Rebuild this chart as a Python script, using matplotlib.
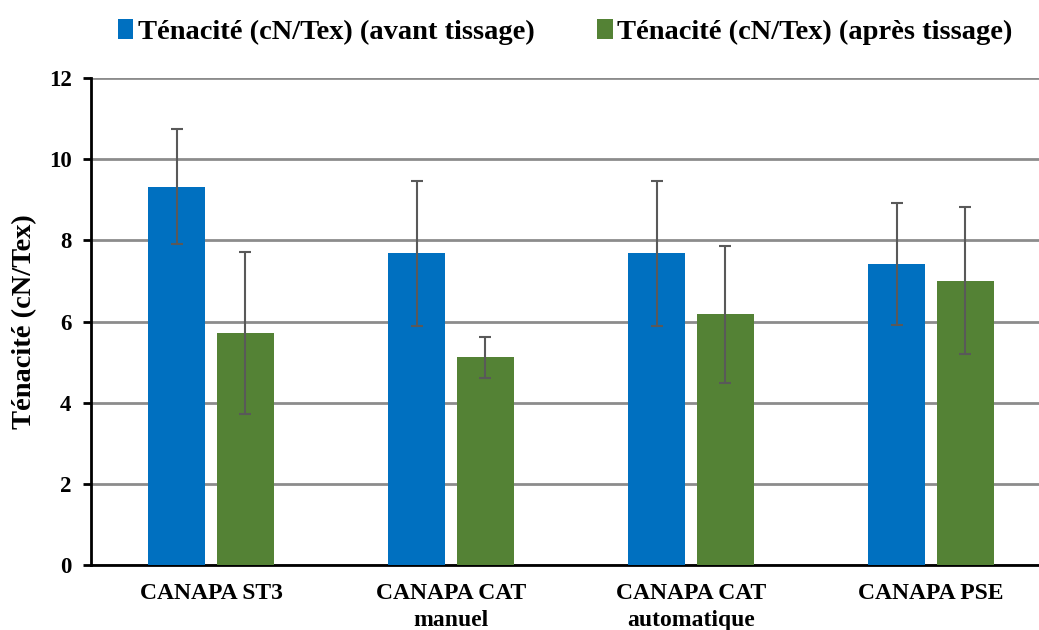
import numpy as np
import matplotlib
matplotlib.use("Agg")
import matplotlib.pyplot as plt

# data
categories = ["CANAPA ST3", "CANAPA CAT\nmanuel", "CANAPA CAT\nautomatique", "CANAPA PSE"]
avant = [9.32, 7.68, 7.68, 7.41]
avant_err = [1.42, 1.79, 1.79, 1.50]
apres = [5.72, 5.12, 6.18, 7.01]
apres_err = [2.00, 0.50, 1.69, 1.80]
series_labels = ["Ténacité (cN/Tex) (avant tissage)", "Ténacité (cN/Tex) (après tissage)"]

plt.rcParams['font.family'] = ['Liberation Serif', 'DejaVu Serif']
plt.rcParams['font.weight'] = 'bold'

fig = plt.figure(figsize=(10.39, 6.30), dpi=100)
ax = fig.add_axes([91/1039, 1 - 565/630, 960/1039, 487/630])

x = np.arange(len(categories))
w = 0.235
off = 0.143
err_kw = dict(ecolor='#595959', elinewidth=1.5, capsize=4.5, capthick=1.5)
ax.bar(x - off, avant, w, yerr=avant_err, color='#0070C0', label=series_labels[0],
       error_kw=err_kw, zorder=3)
ax.bar(x + off, apres, w, yerr=apres_err, color='#548235', label=series_labels[1],
       error_kw=err_kw, zorder=3)

ax.set_xlim(-0.5, len(categories) - 0.5)
ax.set_ylim(0, 12)
ax.set_yticks(range(0, 13, 2))
ax.yaxis.grid(True, color='#8c8c8c', linewidth=2)
ax.set_axisbelow(True)

for s in ['top', 'right']:
    ax.spines[s].set_visible(False)
for s in ['left', 'bottom']:
    ax.spines[s].set_linewidth(2)
    ax.spines[s].set_color('black')

ax.set_xticks(x)
ax.set_xticklabels(categories, fontsize=17, fontweight='bold', linespacing=1.4)
ax.tick_params(axis='x', length=0, pad=13)
ax.tick_params(axis='y', length=6, width=2, labelsize=16.5, pad=8)
for t in ax.get_yticklabels():
    t.set_fontweight('bold')

ax.set_ylabel("Ténacité (cN/Tex)", fontsize=20.5, fontweight='bold', labelpad=8)

fig.legend(loc='upper center', bbox_to_anchor=(565/1039, 1.01), ncol=2, frameon=False,
           prop=dict(size=20.5, weight='bold'), handlelength=0.55, handleheight=0.7,
           handletextpad=0.15, columnspacing=2.2)

plt.savefig("out.png", dpi=100)
